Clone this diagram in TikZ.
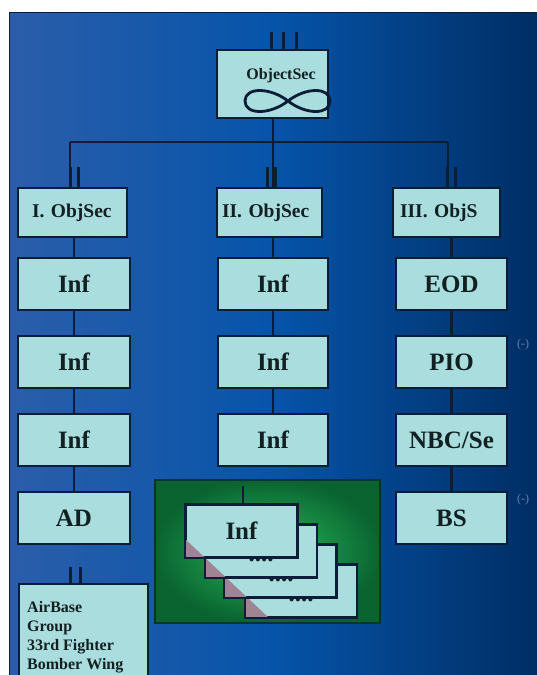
\documentclass[tikz,border=0pt]{standalone}
\usepackage{fontspec}
\setmainfont{Liberation Serif}
\definecolor{bgL}{RGB}{43,94,170}
\definecolor{bgM}{RGB}{6,84,170}
\definecolor{bgR}{RGB}{0,46,100}
\definecolor{boxc}{RGB}{170,221,222}
\definecolor{edge}{RGB}{12,30,55}
\definecolor{ink}{RGB}{18,32,34}
\definecolor{gOut}{RGB}{10,100,48}
\definecolor{gIn}{RGB}{40,188,92}
\definecolor{mauve}{RGB}{160,132,148}
\definecolor{minus}{RGB}{110,125,165}
\begin{document}
\begin{tikzpicture}[x=1pt,y=-1pt,
  unit/.style={draw=edge,line width=1.8pt,fill=boxc,inner sep=0pt,text=ink},
  big/.style={unit,minimum width=111pt,minimum height=52pt,font=\bfseries\fontsize{25}{25}\selectfont},
  lvltwo/.style={unit,minimum height=49pt,align=left,font=\bfseries\fontsize{19.5}{19.5}\selectfont},
  conn/.style={draw=edge,line width=2.2pt},
  tick/.style={draw=edge,line width=3pt},
  dots/.style={anchor=base,inner sep=0pt,text=ink,font=\bfseries\fontsize{25}{25}\selectfont},
  minuslbl/.style={text=minus,inner sep=0pt,font=\fontsize{12}{12}\selectfont}
]
\useasboundingbox (0,0) rectangle (537,675);
\clip (0,0) rectangle (537,675);
\fill[white] (0,0) rectangle (537,675);
\shade[left color=bgL,right color=bgR,middle color=bgM] (9,12) rectangle (537,675);
\draw[edge,line width=1pt] (9,675) -- (9,12) -- (537,12);

% top unit
\node[unit,minimum width=111pt,minimum height=68pt] (top) at (272.5,84) {};
\node[inner sep=0pt,text=ink,font=\bfseries\fontsize{16}{16}\selectfont] (toplbl) at (281,76) {ObjectSec};
\draw[edge,line width=2.8pt] (288,101) .. controls (270,87) and (245,87) .. (245,101)
  .. controls (245,115) and (270,115) .. (288,101)
  .. controls (306,87) and (330,87) .. (330,101)
  .. controls (330,115) and (306,115) .. (288,101);
\foreach \x in {271.7,283.3,296.7} \draw[tick] (\x,32) -- (\x,0 |- top.north);

% level two
\node[lvltwo,text width=81pt,inner xsep=14pt] (oa) at (72.5,212.5) {\mbox{I. ObjSec}};
\node[lvltwo,text width=95pt,inner xsep=5pt] (ob) at (269.5,212.5) {\mbox{II. ObjSec}};
\node[lvltwo,text width=93pt,inner xsep=7pt] (oc) at (446.5,212.5) {\mbox{III. ObjS}};

\coordinate (barL) at (70,142);
\coordinate (barR) at (448,142);
\coordinate (barM) at (273,142);
\draw[conn] (top.south -| barM) -- (barM);
\draw[conn] (barL) -- (barR);
\draw[conn] (barL) -- (barL |- oa.north);
\draw[conn] (barM) -- (barM |- ob.north);
\draw[conn] (barR) -- (barR |- oc.north);
\foreach \x in {70,78,267,275,447,455} \draw[tick] (\x,167) -- (\x,0 |- oa.north);

% columns
\node[big,minimum width=112pt] (a1) at (74,284) {Inf};
\node[big,minimum width=112pt] (a2) at (74,362) {Inf};
\node[big,minimum width=112pt] (a3) at (74,440) {Inf};
\node[big,minimum width=112pt] (a4) at (74,518) {AD};
\node[big,minimum width=110pt] (b1) at (273,284) {Inf};
\node[big,minimum width=110pt] (b2) at (273,362) {Inf};
\node[big,minimum width=110pt] (b3) at (273,440) {Inf};
\node[big] (e1) at (451.5,284) {EOD};
\node[big] (e2) at (451.5,362) {PIO};
\node[big] (e3) at (451.5,440) {NBC/Se};
\node[big] (e4) at (451.5,518) {BS};
\node[minuslbl] (m1) at (523,345) {(-)};
\node[minuslbl] (m2) at (523,500) {(-)};

\draw[conn] (oa.south -| a1.north) -- (a1.north);
\draw[conn] (a1.south) -- (a2.north);
\draw[conn] (a2.south) -- (a3.north);
\draw[conn] (a3.south) -- (a4.north);
\draw[conn] (ob.south -| b1.north) -- (b1.north);
\draw[conn] (b1.south) -- (b2.north);
\draw[conn] (b2.south) -- (b3.north);
\draw[conn] (oc.south -| e1.north) -- (e1.north);
\draw[conn] (e1.south) -- (e2.north);
\draw[conn] (e2.south) -- (e3.north);
\draw[conn] (e3.south) -- (e4.north);

% green panel
\shade[inner color=gIn,outer color=gOut] (155,480) rectangle (380,623);
\draw[edge!70!gOut,line width=1.6pt] (155,480) rectangle (380,623);

\node[big] (c4) at (301,591) {};
\begin{scope}\clip (c4.south west) rectangle (c4.north east);
\fill[mauve] (150,506) -- (320,666) -- (150,666) -- cycle;\end{scope}
\draw[edge,line width=1.8pt] (c4.south west) rectangle (c4.north east);
\node[dots] (d4) at (301,601) {....};

\node[big] (c3) at (280.5,571) {};
\begin{scope}\clip (c3.south west) rectangle (c3.north east);
\fill[mauve] (150,506) -- (320,666) -- (150,666) -- cycle;\end{scope}
\draw[edge,line width=1.8pt] (c3.south west) rectangle (c3.north east);
\node[dots] (d3) at (281,581) {....};

\node[big] (c2) at (261,551) {};
\begin{scope}\clip (c2.south west) rectangle (c2.north east);
\fill[mauve] (150,506) -- (320,666) -- (150,666) -- cycle;\end{scope}
\draw[edge,line width=1.8pt] (c2.south west) rectangle (c2.north east);
\node[dots] (d2) at (261,561) {....};

\node[big] (c1) at (241.5,531) {Inf};
\begin{scope}\clip (c1.south west) rectangle (c1.north east);
\fill[mauve] (150,506) -- (320,666) -- (150,666) -- cycle;\end{scope}
\draw[edge,line width=1.8pt] (c1.south west) rectangle (c1.north east);

\coordinate (gt) at (243,486);
\draw[conn] (gt) -- (gt |- c1.north);

% air base
\node[unit,minimum width=129pt,minimum height=110pt,anchor=north west] (ab) at (18,583) {};
\node[anchor=north west,align=left,inner sep=0pt,text=ink,font=\bfseries\fontsize{16}{19}\selectfont] (abt) at (27,601) {AirBase\\Group\\33rd Fighter\\Bomber Wing};
\foreach \x in {70,80} \draw[tick] (\x,567) -- (\x,0 |- ab.north);
\end{tikzpicture}
\end{document}
